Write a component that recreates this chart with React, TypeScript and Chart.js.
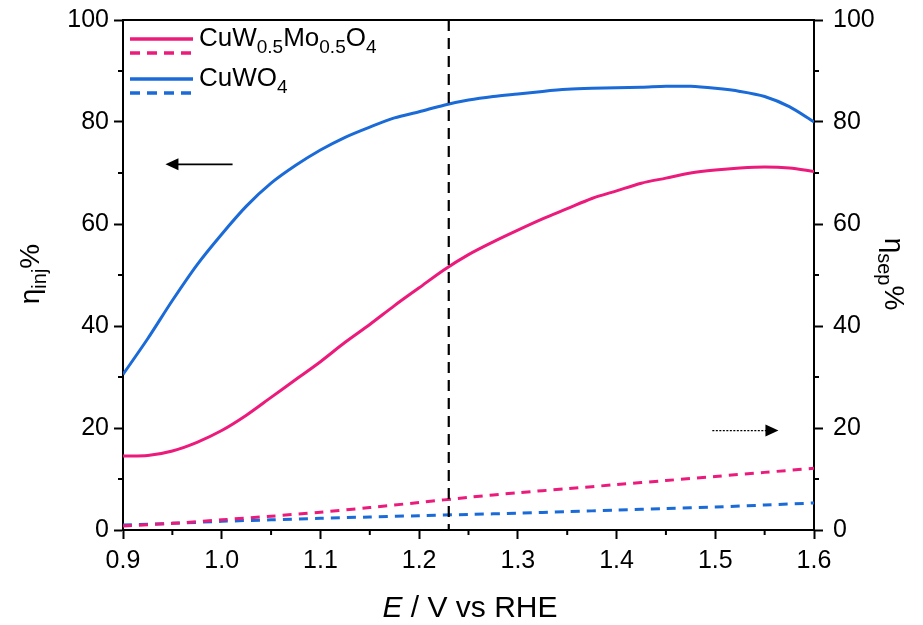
import React, { useEffect, useRef } from "react";
import { Chart, registerables } from "chart.js";
Chart.register(...registerables);

const potentialFine = [0.9, 0.925, 0.95, 0.975, 1.0, 1.025, 1.05, 1.075, 1.1, 1.125, 1.15, 1.175, 1.2, 1.225, 1.25, 1.275, 1.3, 1.325, 1.35, 1.375, 1.4, 1.425, 1.45, 1.475, 1.5, 1.525, 1.55, 1.575, 1.6];
const injCuWO4 = [30.5, 37.5, 45, 52, 58, 63.5, 68, 71.5, 74.5, 77, 79, 80.8, 82, 83.3, 84.3, 85, 85.5, 86, 86.4, 86.6, 86.7, 86.8, 87, 87, 86.6, 86, 85, 83, 80];
const injCuWMo = [14.5, 14.6, 15.5, 17.2, 19.5, 22.5, 26, 29.5, 33, 36.8, 40.3, 44, 47.5, 51, 54, 56.5, 58.8, 61, 63, 65, 66.5, 68, 69, 70, 70.6, 71, 71.2, 71, 70.3];
const potentialCoarse = [0.9, 0.95, 1.0, 1.05, 1.1, 1.15, 1.2, 1.25, 1.3, 1.35, 1.4, 1.45, 1.5, 1.55, 1.6];
const sepCuWMo = [0.8, 1.3, 2.0, 2.7, 3.5, 4.4, 5.4, 6.4, 7.3, 8.1, 8.9, 9.7, 10.5, 11.3, 12.1];
const sepCuWO4 = [1.0, 1.3, 1.7, 2.0, 2.3, 2.55, 2.8, 3.05, 3.3, 3.6, 3.9, 4.2, 4.5, 4.9, 5.3];
const xTicks = [0.9, 1.0, 1.1, 1.2, 1.3, 1.4, 1.5, 1.6];
const yTicks = [0, 20, 40, 60, 80, 100];
const markerPotential = 1.23;

const PINK = "#EC1A7B";
const BLUE = "#1A6AD8";
const FONT = 'Arial, "Liberation Sans", sans-serif';

type Part = { t: string; sub?: boolean; italic?: boolean };

function richWidth(ctx: CanvasRenderingContext2D, parts: Part[], size: number, subSize: number) {
  let w = 0;
  for (const p of parts) {
    ctx.font = `${p.italic ? "italic " : ""}${p.sub ? subSize : size}px ${FONT}`;
    w += ctx.measureText(p.t).width;
  }
  return w;
}

function drawRich(ctx: CanvasRenderingContext2D, parts: Part[], x: number, y: number, size: number, subSize: number, align: "left" | "center") {
  const w = richWidth(ctx, parts, size, subSize);
  let cx = align === "center" ? x - w / 2 : x;
  ctx.textBaseline = "middle";
  ctx.textAlign = "left";
  for (const p of parts) {
    ctx.font = `${p.italic ? "italic " : ""}${p.sub ? subSize : size}px ${FONT}`;
    ctx.fillText(p.t, cx, p.sub ? y + size * 0.34 : y);
    cx += ctx.measureText(p.t).width;
  }
}

const decorPlugin = {
  id: "decor",
  afterDatasetsDraw(chart: any) {
    const ctx: CanvasRenderingContext2D = chart.ctx;
    const xs = chart.scales.x;
    const ys = chart.scales.y;
    const ca = chart.chartArea;
    ctx.save();
    // top border
    ctx.strokeStyle = "#000";
    ctx.lineWidth = 2;
    ctx.beginPath();
    ctx.moveTo(ca.left - 1, ca.top);
    ctx.lineTo(ca.right + 1, ca.top);
    ctx.stroke();
    // minor ticks
    for (let i = 0; i < xTicks.length - 1; i++) {
      const v = (xTicks[i] + xTicks[i + 1]) / 2;
      const px = xs.getPixelForValue(v);
      ctx.beginPath();
      ctx.moveTo(px, ca.bottom);
      ctx.lineTo(px, ca.bottom + 5);
      ctx.stroke();
    }
    for (let i = 0; i < yTicks.length - 1; i++) {
      const v = (yTicks[i] + yTicks[i + 1]) / 2;
      const py = ys.getPixelForValue(v);
      ctx.beginPath();
      ctx.moveTo(ca.left, py);
      ctx.lineTo(ca.left - 5, py);
      ctx.moveTo(ca.right, py);
      ctx.lineTo(ca.right + 5, py);
      ctx.stroke();
    }
    // vertical dashed marker
    const mx = xs.getPixelForValue(markerPotential);
    ctx.setLineDash([11, 7]);
    ctx.lineWidth = 2.2;
    ctx.beginPath();
    ctx.moveTo(mx, ys.getPixelForValue(100));
    ctx.lineTo(mx, ys.getPixelForValue(0));
    ctx.stroke();
    ctx.setLineDash([]);

    // arrows
    const arrow = (x1: number, x2: number, yv: number, dashed: boolean) => {
      const p1 = xs.getPixelForValue(x1);
      const p2 = xs.getPixelForValue(x2);
      const py = ys.getPixelForValue(yv);
      const dir = Math.sign(p2 - p1);
      ctx.strokeStyle = "#000";
      ctx.lineWidth = dashed ? 1.2 : 1.6;
      ctx.setLineDash(dashed ? [2, 1.5] : []);
      ctx.beginPath();
      ctx.moveTo(p1, py);
      ctx.lineTo(p2 - dir * 10, py);
      ctx.stroke();
      ctx.setLineDash([]);
      ctx.fillStyle = "#000";
      ctx.beginPath();
      ctx.moveTo(p2, py);
      ctx.lineTo(p2 - dir * 13, py - 6);
      ctx.lineTo(p2 - dir * 13, py + 6);
      ctx.closePath();
      ctx.fill();
    };
    arrow(1.011, 0.943, 71.7, false);
    arrow(1.497, 1.564, 19.5, true);

    // legend
    const legend = (y: number, color: string, parts: Part[]) => {
      ctx.strokeStyle = color;
      ctx.lineWidth = 3.5;
      ctx.beginPath();
      ctx.moveTo(130, y);
      ctx.lineTo(193, y);
      ctx.stroke();
      ctx.setLineDash([10, 7]);
      ctx.beginPath();
      ctx.moveTo(130, y + 14);
      ctx.lineTo(193, y + 14);
      ctx.stroke();
      ctx.setLineDash([]);
      ctx.fillStyle = "#000";
      drawRich(ctx, parts, 199, y, 26, 19, "left");
    };
    legend(39, PINK, [{ t: "CuW" }, { t: "0.5", sub: true }, { t: "Mo" }, { t: "0.5", sub: true }, { t: "O" }, { t: "4", sub: true }]);
    legend(79, BLUE, [{ t: "CuWO" }, { t: "4", sub: true }]);

    // axis titles
    ctx.fillStyle = "#000";
    const midY = 274;
    ctx.save();
    ctx.translate(31, midY);
    ctx.rotate(-Math.PI / 2);
    drawRich(ctx, [{ t: "η" }, { t: "inj", sub: true }, { t: "%" }], 0, 0, 28, 20, "center");
    ctx.restore();
    ctx.save();
    ctx.translate(893, midY);
    ctx.rotate(Math.PI / 2);
    drawRich(ctx, [{ t: "η" }, { t: "sep", sub: true }, { t: "%" }], 0, 0, 28, 20, "center");
    ctx.restore();
    drawRich(ctx, [{ t: "E", italic: true }, { t: " / V vs RHE" }], 470, 609, 30, 20, "center");
    ctx.restore();
  },
};

export default function App() {
  const ref = useRef<HTMLCanvasElement>(null);
  useEffect(() => {
    document.body.style.margin = "0";
    const toXY = (xs: number[], ys: number[]) => xs.map((x, i) => ({ x, y: ys[i] }));
    const tickFont = { family: FONT, size: 25 };
    const fitY = (w: number) => (s: any) => { s.width = w; s.paddingTop = 0; s.paddingBottom = 0; };
    const chart = new Chart(ref.current!, {
      type: "line",
      data: {
        datasets: [
          { data: toXY(potentialFine, injCuWMo), borderColor: PINK, borderWidth: 3, pointRadius: 0, tension: 0.3, yAxisID: "y" },
          { data: toXY(potentialFine, injCuWO4), borderColor: BLUE, borderWidth: 3, pointRadius: 0, tension: 0.3, yAxisID: "y" },
          { data: toXY(potentialCoarse, sepCuWMo), borderColor: PINK, borderWidth: 3, borderDash: [9, 7], pointRadius: 0, tension: 0.3, yAxisID: "y2" },
          { data: toXY(potentialCoarse, sepCuWO4), borderColor: BLUE, borderWidth: 3, borderDash: [9, 7], pointRadius: 0, tension: 0.3, yAxisID: "y2" },
        ],
      },
      options: {
        responsive: false,
        animation: false,
        layout: { padding: { top: 20, left: 0, right: 0, bottom: 0 } },
        plugins: { legend: { display: false }, tooltip: { enabled: false } },
        scales: {
          x: {
            type: "linear",
            min: 0.9,
            max: 1.6,
            afterBuildTicks: (s: any) => { s.ticks = xTicks.map((v) => ({ value: v })); },
            afterFit: (s: any) => { s.height = 95; s.paddingLeft = 0; s.paddingRight = 0; },
            ticks: { font: tickFont, color: "#000", padding: 7, callback: (v: any) => Number(v).toFixed(1), maxRotation: 0 },
            grid: { drawOnChartArea: false, tickLength: 9, tickColor: "#000", tickWidth: 2 },
            border: { color: "#000", width: 2 },
          },
          y: {
            position: "left",
            min: 0,
            max: 100,
            afterBuildTicks: (s: any) => { s.ticks = yTicks.map((v) => ({ value: v })); },
            afterFit: fitY(123),
            ticks: { font: tickFont, color: "#000", padding: 5 },
            grid: { drawOnChartArea: false, tickLength: 9, tickColor: "#000", tickWidth: 2 },
            border: { color: "#000", width: 2 },
          },
          y2: {
            position: "right",
            min: 0,
            max: 100,
            afterBuildTicks: (s: any) => { s.ticks = yTicks.map((v) => ({ value: v })); },
            afterFit: fitY(109),
            ticks: { font: tickFont, color: "#000", padding: 10 },
            grid: { drawOnChartArea: false, tickLength: 9, tickColor: "#000", tickWidth: 2 },
            border: { color: "#000", width: 2 },
          },
        },
      },
      plugins: [decorPlugin],
    } as any);
    return () => chart.destroy();
  }, []);
  return <canvas ref={ref} width={923} height={625} style={{ display: "block" }} />;
}
